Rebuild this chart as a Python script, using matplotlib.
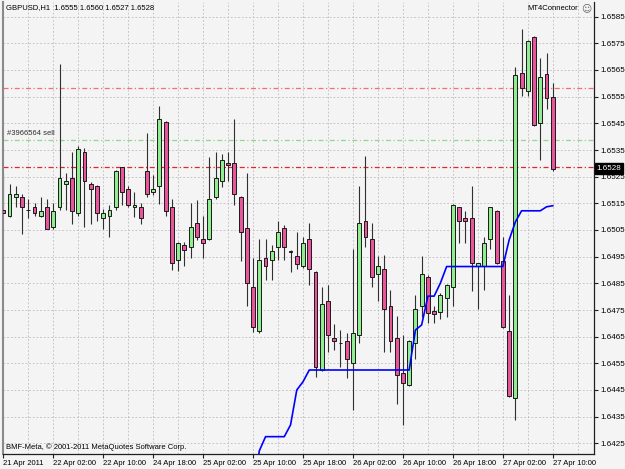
import numpy as np
import matplotlib
matplotlib.use("Agg")
import matplotlib.pyplot as plt

plt.rcParams['font.family'] = ['Liberation Sans', 'DejaVu Sans']

# GBPUSD H1 bars, 21 Apr 18:00 .. 27 Apr 10:00
opens = [
    1.65125, 1.65102, 1.65173, 1.65173, 1.65125, 1.65135, 1.65102, 1.65135, 1.65062, 1.65135,
    1.65222, 1.65244, 1.65113, 1.65344, 1.65222, 1.65215, 1.65094, 1.65102, 1.65135, 1.65285,
    1.65203, 1.65135, 1.65135, 1.65272, 1.65194, 1.65215, 1.65454, 1.65135, 1.64937, 1.64994,
    1.64985, 1.65075, 1.65015, 1.65015, 1.65173, 1.65235, 1.65302, 1.65302, 1.65173, 1.65056,
    1.64835, 1.64672, 1.64944, 1.64937, 1.64985, 1.65056, 1.64973, 1.64952, 1.64915, 1.65015,
    1.64894, 1.64525, 1.64785, 1.64644, 1.64625, 1.64635, 1.64552, 1.64656, 1.65085, 1.65015,
    1.64885, 1.64903, 1.64765, 1.64644, 1.64515, 1.64469, 1.64626, 1.64765, 1.64873, 1.64746,
    1.64744, 1.64794, 1.64835, 1.65135, 1.65094, 1.65094, 1.64915, 1.64915, 1.65015, 1.65122,
    1.64935, 1.64672, 1.64419, 1.65640, 1.65572, 1.65773, 1.65452, 1.65635, 1.65550,
]
highs = [
    1.65269, 1.65222, 1.65215, 1.65185, 1.65165, 1.65152, 1.65173, 1.65165, 1.65152, 1.65672,
    1.65263, 1.65344, 1.65365, 1.65356, 1.65231, 1.65219, 1.65128, 1.65144, 1.65275, 1.65288,
    1.65215, 1.65194, 1.65152, 1.65414, 1.65256, 1.65515, 1.65458, 1.65165, 1.65005, 1.65005,
    1.65152, 1.65162, 1.65102, 1.65323, 1.65344, 1.65335, 1.65344, 1.65465, 1.65176, 1.65265,
    1.64944, 1.65015, 1.65015, 1.64994, 1.65085, 1.65067, 1.64976, 1.65044, 1.65023, 1.65075,
    1.64897, 1.64837, 1.64844, 1.64697, 1.64675, 1.64665, 1.64978, 1.65215, 1.65327, 1.65077,
    1.64952, 1.64956, 1.64825, 1.64727, 1.64656, 1.64637, 1.64806, 1.64952, 1.64881, 1.64765,
    1.64815, 1.64846, 1.65147, 1.65138, 1.65122, 1.65215, 1.64927, 1.65023, 1.65138, 1.65125,
    1.65023, 1.64806, 1.65662, 1.65803, 1.65763, 1.65776, 1.65694, 1.65713, 1.65600,
]
lows = [
    1.65110, 1.65100, 1.65137, 1.65035, 1.65095, 1.65102, 1.65100, 1.65053, 1.65053, 1.65125,
    1.65125, 1.65072, 1.65102, 1.65062, 1.65072, 1.65085, 1.65053, 1.65023, 1.65125, 1.65144,
    1.65137, 1.65100, 1.65072, 1.65173, 1.65181, 1.65147, 1.65102, 1.64900, 1.64895, 1.64915,
    1.64945, 1.65012, 1.64944, 1.65012, 1.65165, 1.65212, 1.65235, 1.65144, 1.64935, 1.64765,
    1.64669, 1.64665, 1.64862, 1.64862, 1.64937, 1.64936, 1.64894, 1.64904, 1.64907, 1.64844,
    1.64498, 1.64523, 1.64594, 1.64600, 1.64537, 1.64494, 1.64375, 1.64625, 1.64985, 1.64835,
    1.64785, 1.64594, 1.64594, 1.64397, 1.64319, 1.64466, 1.64565, 1.64725, 1.64702, 1.64702,
    1.64715, 1.64723, 1.64765, 1.65002, 1.65002, 1.64822, 1.64753, 1.64825, 1.64978, 1.64922,
    1.64684, 1.64424, 1.64337, 1.65552, 1.65552, 1.65441, 1.65312, 1.65503, 1.65270,
]
closes = [
    1.65113, 1.65184, 1.65185, 1.65135, 1.65125, 1.65113, 1.65122, 1.65055, 1.65122, 1.65244,
    1.65235, 1.65122, 1.65353, 1.65235, 1.65203, 1.65115, 1.65115, 1.65125, 1.65272, 1.65194,
    1.65144, 1.65144, 1.65094, 1.65184, 1.65203, 1.65465, 1.65123, 1.64925, 1.65002, 1.64975,
    1.65063, 1.65023, 1.65002, 1.65165, 1.65244, 1.65312, 1.65294, 1.65185, 1.65044, 1.64852,
    1.64685, 1.64937, 1.64914, 1.64972, 1.65044, 1.64985, 1.64966, 1.64924, 1.65002, 1.64903,
    1.64537, 1.64772, 1.64656, 1.64635, 1.64625, 1.64565, 1.64665, 1.65075, 1.65023, 1.64873,
    1.64915, 1.64753, 1.64635, 1.64506, 1.64476, 1.64635, 1.64753, 1.64885, 1.64738, 1.64735,
    1.64806, 1.64844, 1.65144, 1.65085, 1.65085, 1.64925, 1.64925, 1.65002, 1.65135, 1.64925,
    1.64687, 1.64427, 1.65631, 1.65581, 1.65760, 1.65444, 1.65623, 1.65544, 1.65280,
]

# blue trailing line, starts at bar 40
trail_first = 40
trail = [
    1.64050, 1.64222, 1.64275, 1.64275, 1.64275, 1.64275, 1.64319, 1.64450, 1.64481,
    1.64525, 1.64525, 1.64525, 1.64525, 1.64525, 1.64525, 1.64525, 1.64525, 1.64525,
    1.64525, 1.64525, 1.64525, 1.64525, 1.64525, 1.64525, 1.64525, 1.64525,
    1.64675, 1.64694, 1.64802, 1.64802, 1.64851,
    1.64913, 1.64913, 1.64913, 1.64913, 1.64913, 1.64913, 1.64913, 1.64913, 1.64913, 1.64913,
    1.65012, 1.65080, 1.65122, 1.65122, 1.65122, 1.65122, 1.65137, 1.65141,
]

time_labels = ["21 Apr 2011", "22 Apr 02:00", "22 Apr 10:00", "24 Apr 18:00",
               "25 Apr 02:00", "25 Apr 10:00", "25 Apr 18:00", "26 Apr 02:00",
               "26 Apr 10:00", "26 Apr 18:00", "27 Apr 02:00", "27 Apr 10:00"]
price_ticks = [1.6425 + 0.001 * k for k in range(17)]

sl_price = 1.65584
order_price = 1.65386
tp_price = 1.65287

W, H = 625, 469
bg = '#f4f4f4'
fig = plt.figure(figsize=(W / 100, H / 100), dpi=100, facecolor=bg)
ax = fig.add_axes([3 / W, 15 / H, 591 / W, 452 / H])
ax.set_facecolor(bg)

o = np.array(opens)
h = np.array(highs)
l = np.array(lows)
c = np.array(closes)
x = np.arange(len(o))

ax.set_xlim(-0.05, 94.6)
ax.set_ylim(1.64210, 1.65905)

# grid
grid_kw = dict(color='#c4bcc4', lw=0.6, dashes=(2.2, 2.2), zorder=0)
for p in price_ticks:
    ax.axhline(p, **grid_kw)
for b in range(0, 95, 4):
    ax.axvline(b, **grid_kw)

# order lines
ax.axhline(sl_price, color='#f27070', lw=0.9, ls=(0, (4, 2, 1, 2)), zorder=1)
ax.axhline(order_price, color='#90d890', lw=0.9, ls=(0, (4, 2, 1, 2)), zorder=1)
ax.axhline(tp_price, color='#e02828', lw=0.9, ls=(0, (4, 2, 1, 2)), zorder=1)
ax.text(0.6, order_price + 0.00012, "#3966564 sell", fontsize=5.5, color='#303030', va='bottom')

# candles
up = c >= o
ax.vlines(x, l, h, color='#303030', lw=0.8, zorder=2)
ax.bar(x, np.abs(c - o), bottom=np.minimum(o, c), width=0.62,
       color=np.where(up, '#90ee90', '#e8559a'), edgecolor='#1a1a1a', lw=0.7, zorder=3)

ax.plot(x[trail_first:], trail, color='#0000ff', lw=1.2, zorder=4)

# axes
ax.yaxis.tick_right()
ax.set_yticks(price_ticks)
ax.set_yticklabels([f"{p:.4f}" for p in price_ticks])
ax.tick_params(axis='y', length=3, width=0.8, pad=1.5, labelsize=5.8, color='#202020')
ax.set_xticks(x[::8])
ax.set_xticklabels(time_labels, ha='left')
ax.tick_params(axis='x', length=3, width=0.8, pad=1.5, labelsize=5.5, color='#202020')

ax.spines['top'].set_visible(False)
ax.spines['left'].set_color('#8a8a8a')
ax.spines['left'].set_linewidth(1.5)
for s in ['right', 'bottom']:
    ax.spines[s].set_color('#202020')
    ax.spines[s].set_linewidth(0.9)

# current price box
ax.text(1.004, c[-1], f"{c[-1]:.4f}", transform=ax.get_yaxis_transform(),
        fontsize=5.8, color='white', va='center', ha='left', clip_on=False, zorder=6,
        bbox=dict(facecolor='black', edgecolor='black', pad=1.2))

# header and footer text
fig.text(6 / W, 1 - 8 / H, f"GBPUSD,H1  {o[-1]:.4f} {h[-1]:.4f} {l[-1]:.4f} {c[-1]:.4f}",
         fontsize=5.5, va='center')
fig.text(578 / W, 1 - 8 / H, "MT4Connector", fontsize=5.5, va='center', ha='right')
fig.text(586 / W, 1 - 8 / H, "\u263a", fontsize=7, va='center', ha='center', color='#606060',
         family=['DejaVu Sans'])
fig.text(6 / W, 1 - 447 / H, "BMF-Meta, \u00a9 2001-2011 MetaQuotes Software Corp.",
         fontsize=5.5, va='center')

fig.savefig("out.png", dpi=100, facecolor=bg)
